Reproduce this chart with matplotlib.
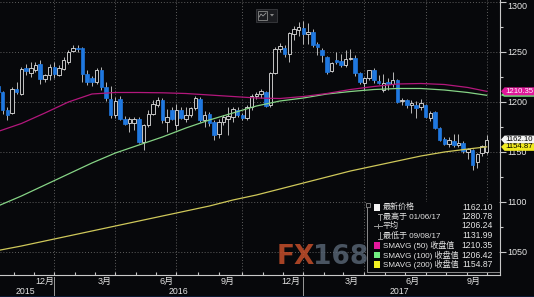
import numpy as np
import matplotlib
matplotlib.use('Agg')
import matplotlib.pyplot as plt
from matplotlib.patches import Rectangle, Polygon
from matplotlib.lines import Line2D
import matplotlib.transforms as mtransforms

# ---------------- data (weekly candles) ----------------
opens = [1216,1210,1192,1189,1213,1208,1234,1229,1232,1238,1223,1227,1235,1227,1233,1240,1251,1254,1254,1228,
         1224,1220,1232,1215,1203,1187,1203,1183,1179,1179,1183,1160,1177,1188,1197,1202,1180,1192,1177,1192,
         1183,1187,1194,1203,1182,1188,1180,1168,1180,1183,1185,1192,1187,1184,1195,1206,1208,1210,1197,1229,
         1253,1254,1248,1268,1272,1274,1268,1270,1258,1252,1245,1231,1242,1241,1237,1243,1244,1229,1219,1224,
         1232,1221,1212,1220,1218,1222,1201,1202,1197,1197,1195,1197,1184,1190,1174,1163,1158,1161,1157,1159,
         1150,1152,1140,1149,1150]
highs = [1219,1211,1195,1215,1220,1235,1238,1240,1240,1242,1228,1238,1240,1237,1245,1252,1257,1257,1255,1232,
         1226,1234,1235,1220,1216,1205,1206,1186,1185,1185,1185,1178,1192,1202,1205,1204,1193,1195,1198,1195,
         1195,1195,1206,1205,1191,1190,1182,1183,1187,1195,1195,1195,1189,1197,1208,1210,1213,1211,1230,1255,
         1259,1257,1270,1276,1280,1280.78,1279,1273,1260,1254,1246,1240,1250,1248,1252,1253,1247,1230,1225,1232,
         1234,1227,1228,1224,1230,1223,1204,1203,1202,1201,1203,1198,1191,1191,1175,1165,1165,1168,1168,1161,
         1154,1153,1149,1157,1167]
lows = [1207,1188,1182,1188,1208,1207,1227,1225,1230,1218,1220,1222,1224,1226,1232,1238,1250,1250,1220,1217,
        1216,1218,1212,1201,1184,1184,1182,1177,1170,1172,1159,1152,1175,1187,1195,1179,1170,1182,1172,1183,
        1180,1185,1192,1180,1175,1176,1162,1164,1177,1167,1180,1185,1182,1182,1192,1203,1204,1195,1195,1228,
        1250,1245,1240,1262,1266,1258,1258,1255,1247,1240,1228,1230,1238,1235,1235,1242,1226,1218,1212,1222,
        1219,1218,1210,1212,1215,1199,1197,1194,1189,1184,1192,1184,1181,1173,1161,1157,1155,1155,1155,1149,
        1143,1131.99,1134,1146,1148]
closes = [1210,1192,1187,1213,1210,1233,1231,1234,1237,1223,1227,1235,1228,1234,1242,1250,1254,1253,1228,1220,
          1220,1232,1215,1204,1187,1201,1183,1178,1183,1183,1160,1177,1188,1198,1202,1182,1185,1183,1192,1184,
          1187,1194,1204,1182,1187,1179,1167,1180,1185,1186,1193,1187,1184,1195,1206,1208,1211,1196,1229,1253,
          1256,1248,1269,1273,1275,1268,1270,1257,1255,1247,1230,1239,1240,1237,1243,1244,1229,1220,1224,1232,
          1222,1219,1219,1218,1222,1200,1202,1197,1199,1194,1199,1185,1189,1174,1162,1158,1162,1157,1159,1151,
          1153,1137,1148,1156,1162.10]

# moving averages read at sparse candle indices
sma_idx = [0, 5, 10, 15, 20, 25, 30, 35, 40, 45, 50, 55, 60, 65, 70, 75, 80, 85, 90, 95, 100, 104]
sma50 = [1170.2, 1178.2, 1188.7, 1199.7, 1207.7, 1209.2, 1209.2, 1208.9, 1208.2, 1206.7, 1205.2,
         1203.7, 1203.2, 1205.2, 1208.2, 1212.2, 1215.2, 1217.7, 1218.2, 1217.2, 1214.2, 1210.35]
sma100 = [1095.7, 1105.7, 1116.7, 1127.7, 1138.7, 1148.7, 1156.7, 1164.7, 1173.7, 1181.7, 1188.7,
          1195.7, 1200.7, 1203.7, 1207.7, 1210.2, 1212.2, 1213.2, 1213.2, 1211.7, 1209.2, 1206.42]
sma200 = [1051.2, 1055.7, 1060.7, 1065.7, 1070.7, 1075.7, 1080.7, 1085.7, 1090.7, 1095.7, 1101.7,
          1106.7, 1112.7, 1118.7, 1124.7, 1130.7, 1135.7, 1140.7, 1145.7, 1149.7, 1152.7, 1154.87]

grid_idx = [12, 25, 38, 52, 65, 78, 91, 104]
minor_idx = [3.4, 7.7, 16.4, 20.6, 29.3, 33.7, 42.6, 47, 56.4, 60.7, 69.4, 73.4, 82.3, 86.7, 95.4, 99.9]
month_pos = [10.0, 22.8, 35.8, 48.8, 62.3, 75.3, 88.3, 101.3]
month_labels = ['12月', '3月', '6月', '9月', '12月', '3月', '6月', '9月']
year_pos = [5.9, 38.4, 85.5]
year_labels = ['2015', '2016', '2017']
year_sep = [12, 65]
y_ticks = [1050, 1100, 1150, 1200, 1250, 1300]
y_minor = [1075, 1125, 1175, 1225, 1275]

legend_labels = ['最新价格', '最高于 01/06/17', '平均', '最低于 09/08/17',
                 'SMAVG (50) 收盘值', 'SMAVG (100) 收盘值', 'SMAVG (200) 收盘值']
legend_values = ['1162.10', '1280.78', '1206.24', '1131.99', '1210.35', '1206.42', '1154.87']

# ---------------- styling ----------------
W, H = 534, 297
BG = '#07080b'
BLUE = '#1f78e0'
UPEDGE = '#e2e2e2'
WICK = '#b8b8b8'
GRID = '#5e5e5e'
AXC = '#c8c8c8'
TXT = '#e4e4e4'
MAG = '#b3177c'
GRN = '#86d486'
YEL = '#cfc85a'
NUMF = ['Liberation Sans', 'DejaVu Sans']
CJKF = ['Liberation Sans', 'Noto Sans CJK SC', 'DejaVu Sans']

fig = plt.figure(figsize=(W / 100, H / 100), dpi=100)
fig.patch.set_facecolor(BG)

def fx(x):
    return x / W

def fy(y):
    return 1 - y / H

ax = fig.add_axes([0, fy(275), fx(500), 275 / H])
ax.set_facecolor(BG)
ax.set_xlim(0.447, 106.83)
ax.set_ylim(1026.7, 1301.7)

for s in ['left', 'top']:
    ax.spines[s].set_visible(False)
for s in ['bottom', 'right']:
    ax.spines[s].set_color(AXC)
    ax.spines[s].set_linewidth(0.8)

# grid
for v in y_ticks:
    ax.axhline(v, color=GRID, lw=0.7, ls=(0, (1, 2)), zorder=1)
for g in grid_idx:
    ax.axvline(g, color=GRID, lw=0.7, ls=(0, (1, 2)), zorder=1)

# y axis on right
ax.yaxis.tick_right()
ax.set_yticks(y_ticks)
ax.set_yticks(y_minor, minor=True)
ax.set_yticklabels([str(v) for v in y_ticks], fontfamily=NUMF, fontsize=6.5, color=TXT)
ax.tick_params(axis='y', which='major', direction='out', length=4, width=0.8, color=AXC, pad=1)
ax.tick_params(axis='y', which='minor', direction='out', length=2, width=0.8, color=AXC)
for lbl in ax.get_yticklabels():
    if lbl.get_text() == '1300':
        lbl.set_va('top')

# x axis ticks
ax.set_xticks(grid_idx)
ax.set_xticks(minor_idx, minor=True)
ax.set_xticklabels([])
ax.tick_params(axis='x', which='both', direction='in', length=2.5, width=0.8, color=AXC)

# candles
idx = np.arange(len(opens))
o = np.array(opens, float)
h = np.array(highs, float)
l = np.array(lows, float)
c = np.array(closes, float)
ax.vlines(idx, l, h, colors=WICK, lw=0.7, zorder=2)
up = c >= o
bot = np.minimum(o, c)
hgt = np.maximum(np.abs(c - o), 0.8)
ax.bar(idx[~up], hgt[~up], bottom=bot[~up], width=0.74, color=BLUE, edgecolor=BLUE,
       linewidth=0.5, zorder=3)
ax.bar(idx[up], hgt[up], bottom=bot[up], width=0.74, color=BG, edgecolor=UPEDGE,
       linewidth=0.6, zorder=3)

# moving averages
ax.plot(sma_idx, sma200, color=YEL, lw=0.9, zorder=4)
ax.plot(sma_idx, sma100, color=GRN, lw=0.9, zorder=4)
ax.plot(sma_idx, sma50, color=MAG, lw=0.9, zorder=4)

# right-side value tags
blend = mtransforms.blended_transform_factory(fig.transFigure, ax.transData)

def tag(price, face, tcol, half_up=4.0, half_dn=4.0, text=True):
    pts = [(fx(501), price), (fx(504.5), price + half_up), (fx(534), price + half_up),
           (fx(534), price - half_dn), (fx(504.5), price - half_dn)]
    ax.add_patch(Polygon(pts, closed=True, transform=blend, facecolor=face,
                         edgecolor='none', clip_on=False, zorder=6))
    if text:
        ax.text(fx(519.0), price, '%.2f' % price, transform=blend, ha='center', va='center',
                fontsize=5.6, fontfamily=NUMF, color=tcol, zorder=7, clip_on=False)

tag(sma100[-1], '#6fe07a', 'black', half_up=4.0, half_dn=1.5, text=False)
tag(sma50[-1], '#e0189a', 'white')
tag(closes[-1], '#f4f4f4', 'black')
tag(sma200[-1], '#f0ea20', 'black', half_up=3.4, half_dn=4.0)

# bottom labels
xt = ax.get_xaxis_transform()
def yax(ypx):
    return (275 - ypx) / 275

for p, t in zip(month_pos, month_labels):
    ax.text(p, yax(281.8), t, transform=xt, ha='center', va='center',
            fontsize=6.5, fontfamily=CJKF, color=TXT, clip_on=False)
for p, t in zip(year_pos, year_labels):
    ax.text(p, yax(291.3), t, transform=xt, ha='center', va='center',
            fontsize=6.3, fontfamily=NUMF, color=TXT, clip_on=False)
for p in year_sep:
    ax.plot([p, p], [yax(276.5), yax(297)], transform=xt, color='#9a9a9a',
            lw=0.7, clip_on=False)

# bottom navy strip
fig.add_artist(Rectangle((0, 0), 1, 1 - fy(1.5), transform=fig.transFigure,
                         facecolor='#0b1a34', edgecolor='none', zorder=1))

# watermark
fig.text(fx(277), fy(264), 'FX', fontsize=19, fontweight='bold', color='#c44e2a',
         alpha=0.85, fontfamily='DejaVu Sans', zorder=3)
fig.text(fx(313), fy(264), '168', fontsize=19, fontweight='bold', color='#5a6878',
         alpha=0.8, fontfamily='DejaVu Sans', zorder=3)

# top toolbar icon
fig.add_artist(Rectangle((fx(256), fy(22)), 21 / W, 13 / H, transform=fig.transFigure,
                         facecolor='#1b1c20', edgecolor='#3a3b40', lw=0.6, zorder=4))
fig.add_artist(Rectangle((fx(258), fy(20)), 9 / W, 9 / H, transform=fig.transFigure,
                         facecolor='none', edgecolor='#8a8a8a', lw=0.6, zorder=5))
fig.add_artist(Line2D([fx(259), fx(261), fx(263), fx(266)], [fy(17), fy(14), fy(16), fy(13)],
                      transform=fig.transFigure, color='#9a9a9a', lw=0.6, zorder=6))
fig.add_artist(Polygon([(fx(270), fy(14)), (fx(274), fy(14)), (fx(272), fy(16.5))],
                       transform=fig.transFigure, facecolor='#8a8a8a', edgecolor='none', zorder=6))

# legend box
LX0, LX1, LY0, LY1 = 367, 499, 202, 272
fig.add_artist(Rectangle((fx(LX0), fy(LY1)), (LX1 - LX0) / W, (LY1 - LY0) / H,
                         transform=fig.transFigure, facecolor=BG, edgecolor='none', zorder=5))
fig.add_artist(Line2D([fx(LX0), fx(LX0), fx(LX1)], [fy(LY0 + 4), fy(LY1), fy(LY1)],
                      transform=fig.transFigure, color='#8a8a8a', lw=0.7, zorder=6))
fig.add_artist(Rectangle((fx(365.5), fy(207)), 4 / W, 4 / H, transform=fig.transFigure,
                         facecolor=BG, edgecolor='#8a8a8a', lw=0.6, zorder=7))

row_y = [207.3, 216.7, 226.0, 235.7, 245.3, 255.0, 264.3]
sq_colors = ['#f4f4f4', None, None, None, '#e4189c', '#72f082', '#f2f022']
for i, (lab, val) in enumerate(zip(legend_labels, legend_values)):
    y = row_y[i]
    if sq_colors[i] is not None:
        fig.add_artist(Rectangle((fx(373.5), fy(y + 3.3)), 6.5 / W, 6.5 / H,
                                 transform=fig.transFigure, facecolor=sq_colors[i],
                                 edgecolor='none', zorder=7))
    fig.text(fx(382.7), fy(y), lab, ha='left', va='center', fontsize=5.8,
             fontfamily=CJKF, color=TXT, zorder=7)
    fig.text(fx(492.5), fy(y), val, ha='right', va='center', fontsize=6.2,
             fontfamily=NUMF, color=TXT, zorder=7)

SYM = '#9a9a9a'
fig.add_artist(Line2D([fx(377.5), fx(381.5)], [fy(213.5), fy(213.5)], transform=fig.transFigure, color=SYM, lw=0.7, zorder=7))
fig.add_artist(Line2D([fx(379.5), fx(379.5)], [fy(213.5), fy(220)], transform=fig.transFigure, color=SYM, lw=0.7, zorder=7))
fig.add_artist(Line2D([fx(374), fx(381.5)], [fy(226), fy(226)], transform=fig.transFigure, color=SYM, lw=0.7, zorder=7))
fig.add_artist(Line2D([fx(377.7), fx(377.7)], [fy(224.3), fy(227.7)], transform=fig.transFigure, color=SYM, lw=0.7, zorder=7))
fig.add_artist(Line2D([fx(379.5), fx(379.5)], [fy(232), fy(238.5)], transform=fig.transFigure, color=SYM, lw=0.7, zorder=7))
fig.add_artist(Line2D([fx(377.5), fx(381.5)], [fy(238.5), fy(238.5)], transform=fig.transFigure, color=SYM, lw=0.7, zorder=7))

fig.savefig('out.png', dpi=100, facecolor=BG)
